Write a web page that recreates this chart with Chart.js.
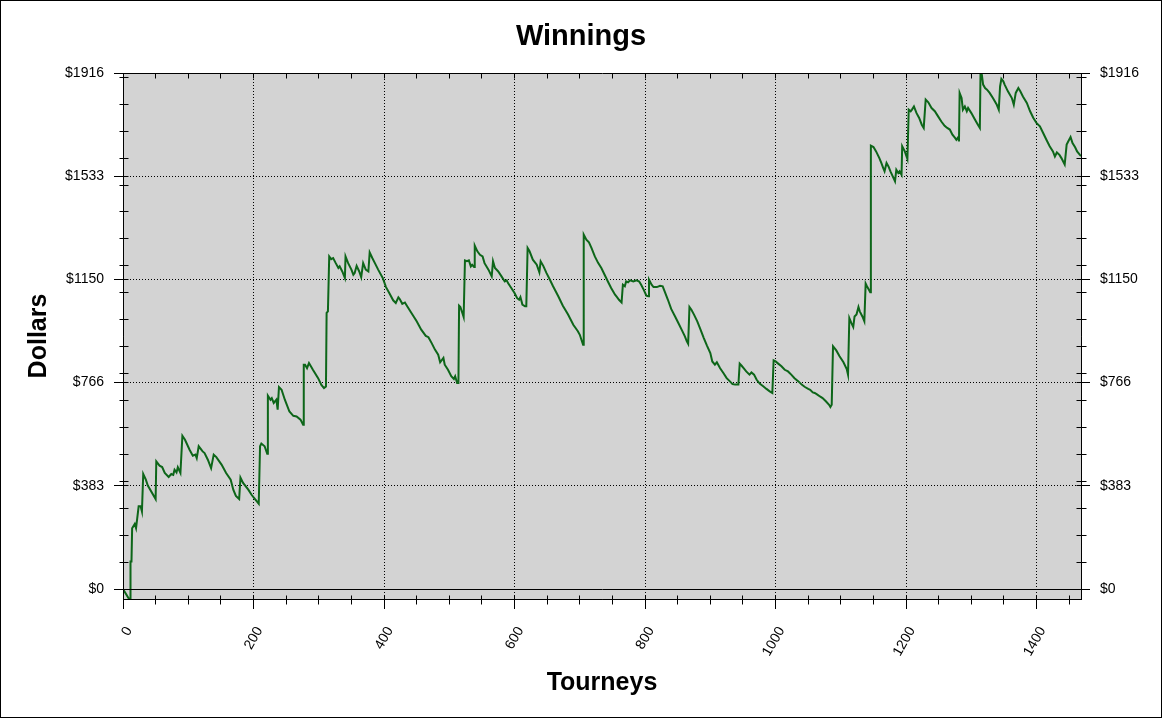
<!DOCTYPE html>
<html><head><meta charset="utf-8">
<script src="https://cdn.jsdelivr.net/npm/chart.js@4.4.1/dist/chart.umd.min.js"></script>
<style>html,body{margin:0;padding:0;background:#fff}#wrap{width:1162px;height:718px;position:relative}</style>
</head><body><div id="wrap"><canvas id="c" width="1162" height="718"></canvas></div>
<script>
const tourneys = [
0,9,11,11.5,13,14,18,20,24,27,29,31,35,38,50,51,56,60,64,70,74,77,79,82,84,88,
91,95,102,107,111,113,116,122,125,130,135,139,143,151,158,165,169,173,178,
180,184,192,197,202,208,210,212,217,221,222,226,228,231,235,237,239,243,248,255,261,266,272,276,
277,279,282,285,291,299,304,308,311,312,314,316,319,322,326,330,332,336,340,341,345,350,353,355,358,
362,365,368,372,376,378,382,386,391,398,403,408,414,418,422,424,428,432,435,442,450,457,464,468,473,
478,483,486,491,493,498,503,507,509,512,514,515,517,520,522,524,527,530,533,535,538,539,543,547,551,
554,560,565,567,570,575,580,585,588,590,595,600,604,607,609,612,616,618,620,623,628,634,638,640,644,
649,654,659,667,674,682,690,697,700,705,706,
710,714,718,723,728,733,738,743,748,754,757,760,764,766,769,771,774,777,782,787,791,794,798,802,805,
806,810,813,818,823,827,830,835,840,846,851,856,861,864,866,868,871,875,880,885,890,895,900,903,907,
910,915,920,925,930,934,938,943,945,948,951,955,960,963,967,971,976,981,986,991,995,997,1000,1004,
1009,1014,1019,1024,1029,1035,1040,1045,1050,1053,1057,1060,1064,1068,1072,1077,1082,1084,1086,1088,
1093,1098,1104,1109,1111,1113,1116,1119,1121,1124,1127,1129,1133,1136,1138,1140,1143,1145,1146,
1150,1154,1159,1162,1165,1167,1170,1173,1176,1179,1183,1185,1188,1190,1193,1194,1198,1202,1204,1207,
1209,1212,1216,1220,1224,1227,1230,1234,1239,1244,1249,1254,1259,1263,1267,1271,1275,1277,1280,1281,
1282,1285,1287,1290,1293,1295,1300,1305,1310,1313,1314,1316,1318,1321,1324,1328,1333,1339,1342,1344,
1346,1349,1351,1356,1362,1365,1368,1372,1375,1379,1385,1390,1395,1400,1405,1410,1415,1420,1425,1428,
1431,1435,1438,1443,1446,1448,1452,1455,1459,1462,1466,1468
];
const dollars = [
0,-36,-36,102,102,226,242,226,307,307,288,427,406,384,334,474,458,453,431,416,427,424,443,433,452,431,
569,554,517,495,499,486,530,511,505,480,449,499,490,462,431,406,369,346,334,
414,394,369,350,335,317,530,540,530,502,718,703,709,691,703,666,750,740,703,659,643,641,629,610,
833,833,820,839,814,783,758,746,752,1025,1031,1235,1225,1229,1210,1192,1198,1179,1155,1235,1210,1186,1167,1173,1200,
1179,1158,1210,1186,1179,1250,1229,1210,1186,1155,1121,1099,1072,1062,1083,1077,1059,1064,1052,1025,994,963,940,935,913,
889,870,842,858,833,814,790,780,790,765,765,1052,1047,1025,1010,1220,1217,1220,1198,1204,1196,1275,1254,1241,1235,
1210,1186,1161,1217,1192,1179,1161,1142,1146,1136,1118,1099,1080,1074,1084,1056,1050,1050,1266,1254,1223,1204,1176,1217,1200,
1173,1149,1124,1087,1052,1019,981,957,944,907,1316,
1297,1287,1266,1235,1211,1192,1167,1142,1118,1093,1084,1074,1064,1130,1124,1142,1139,1146,1142,1146,1142,1130,1111,1089,1087,
1149,1130,1121,1121,1126,1124,1105,1074,1040,1012,988,963,938,920,911,1047,1037,1019,994,963,932,903,876,845,833,
842,820,802,783,771,761,759,759,837,829,820,808,796,804,796,777,762,753,743,734,728,849,845,837,
827,814,808,796,783,771,759,750,743,740,730,728,722,715,709,697,684,676,684,901,
886,864,842,817,796,1006,988,973,1012,1019,1047,1031,1012,994,1134,1124,1111,1102,1646,
1641,1625,1600,1582,1563,1551,1582,1569,1551,1535,1514,1557,1545,1551,1538,1644,1625,1597,1780,1774,
1780,1792,1767,1749,1724,1712,1817,1807,1786,1774,1755,1736,1720,1712,1706,1687,1675,1668,1678,1662,
1842,1823,1780,1792,1774,1786,1767,1745,1724,1712,1914,1910,1873,1860,1854,1842,1823,1798,1780,1866,
1894,1885,1873,1848,1823,1798,1842,1860,1848,1829,1805,1774,1749,1730,1718,1693,1668,1644,1625,1606,
1621,1612,1600,1576,1650,1660,1678,1656,1640,1625,1613,1608
];
const xTickValues = [0,200,400,600,800,1000,1200,1400];
const yTickValues = [0,383.2,766.4,1149.6,1532.8,1916];
const yTickLabels = ['$0','$383','$766','$1150','$1533','$1916'];
const xMin = 0, xMax = 1468, yMin = -37, yMax = 1916;
const xMinorStep = 50, yMinorStep = 100;

const FONT = "'Liberation Sans', Arial, sans-serif";

const extras = {
  id: 'extras',
  beforeDraw(chart) {
    const {ctx, chartArea: a} = chart;
    ctx.save();
    ctx.fillStyle = '#ffffff';
    ctx.fillRect(0, 0, chart.width, chart.height);
    ctx.fillStyle = '#d3d3d3';
    ctx.fillRect(a.left, a.top, a.right - a.left, a.bottom - a.top);
    ctx.restore();
  },
  afterDraw(chart) {
    const {ctx, chartArea: a, scales} = chart;
    const x = scales.x, y = scales.y;
    const al = v => Math.round(v - 0.5) + 0.5;
    const L = al(a.left), R = al(a.right), T = al(a.top), B = al(a.bottom);
    ctx.save();
    ctx.strokeStyle = '#000';
    ctx.lineWidth = 1;
    ctx.beginPath();
    const y0 = al(y.getPixelForValue(0));
    ctx.moveTo(L, y0); ctx.lineTo(R, y0);
    ctx.moveTo(L, T); ctx.lineTo(R, T); ctx.lineTo(R, B); ctx.lineTo(L, B); ctx.closePath();
    for (let v = yMinorStep; v < yMax; v += yMinorStep) {
      const p = al(y.getPixelForValue(v));
      ctx.moveTo(L - 4, p); ctx.lineTo(L + 5, p);
      ctx.moveTo(R - 5, p); ctx.lineTo(R + 5, p);
    }
    yTickValues.forEach(v => {
      const p = al(y.getPixelForValue(v));
      ctx.moveTo(L, p); ctx.lineTo(L + 5, p);
      ctx.moveTo(R - 5, p); ctx.lineTo(R, p);
    });
    for (let v = xMinorStep; v < xMax; v += xMinorStep) {
      const p = al(x.getPixelForValue(v));
      if (v % 200 !== 0) { ctx.moveTo(p, B - 4); ctx.lineTo(p, B + 5); }
      else { ctx.moveTo(p, B - 4); ctx.lineTo(p, B); }
      ctx.moveTo(p, T); ctx.lineTo(p, T + 5);
    }
    ctx.stroke();
    ctx.strokeRect(0.5, 0.5, chart.width - 1, chart.height - 1);
    ctx.restore();
  }
};

const points = tourneys.map((t, i) => ({x: t, y: dollars[i]}));

new Chart(document.getElementById('c'), {
  type: 'line',
  data: {
    datasets: [{
      data: points,
      borderColor: '#0d6619',
      borderWidth: 2,
      pointRadius: 0,
      tension: 0,
      fill: false
    }]
  },
  options: {
    responsive: false,
    animation: false,
    devicePixelRatio: 1,
    layout: {padding: 0},
    plugins: {
      legend: {display: false},
      tooltip: {enabled: false},
      title: {
        display: true,
        text: 'Winnings',
        color: '#000',
        font: {family: FONT, size: 29, weight: 'bold', lineHeight: 1.2},
        padding: {top: 19.6, bottom: 18.6}
      }
    },
    scales: {
      x: {
        type: 'linear',
        position: 'bottom',
        min: xMin, max: xMax,
        afterBuildTicks: s => { s.ticks = xTickValues.map(v => ({value: v})); },
        afterFit: s => { s.height = 119; },
        ticks: {
          color: '#000',
          font: {family: FONT, size: 14},
          minRotation: 60, maxRotation: 60,
          padding: 15,
          labelOffset: 6,
          callback: v => String(v)
        },
        grid: {color: '#000', lineWidth: 1, tickLength: 10, tickColor: '#000', tickBorderDash: []},
        border: {display: true, color: '#000', width: 1, dash: [1, 2]},
        title: {
          display: true, text: 'Tourneys', color: '#000',
          font: {family: FONT, size: 25, weight: 'bold', lineHeight: 1.2},
          padding: {top: 0, bottom: 19.5}
        }
      },
      y: {
        type: 'linear',
        position: 'left',
        min: yMin, max: yMax,
        afterBuildTicks: s => { s.ticks = yTickValues.map(v => ({value: v})); },
        afterFit: s => { s.width = 123; },
        ticks: {
          color: '#000',
          font: {family: FONT, size: 14},
          padding: 10,
          callback: (v, i) => yTickLabels[i]
        },
        grid: {color: '#000', lineWidth: 1, tickLength: 9, tickColor: '#000', tickBorderDash: []},
        border: {display: true, color: '#000', width: 1, dash: [1, 2]},
        title: {
          display: true, text: 'Dollars', color: '#000',
          font: {family: FONT, size: 25, weight: 'bold', lineHeight: 1.2},
          padding: {top: 24, bottom: 0}
        }
      },
      y2: {
        type: 'linear',
        position: 'right',
        min: yMin, max: yMax,
        afterBuildTicks: s => { s.ticks = yTickValues.map(v => ({value: v})); },
        afterFit: s => { s.width = 81; },
        ticks: {
          color: '#000',
          font: {family: FONT, size: 14},
          padding: 10,
          callback: (v, i) => yTickLabels[i]
        },
        grid: {drawOnChartArea: false, color: '#000', tickLength: 9, tickColor: '#000'},
        border: {display: true, color: '#000', width: 1}
      }
    }
  },
  plugins: [extras]
});
</script>
</body></html>
